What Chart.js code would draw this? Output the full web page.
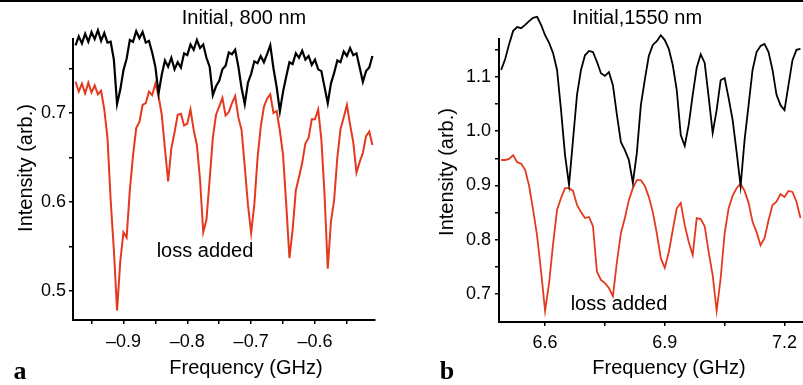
<!DOCTYPE html>
<html>
<head>
<meta charset="utf-8">
<script src="https://cdn.jsdelivr.net/npm/chart.js@4.4.1/dist/chart.umd.min.js"></script>
<style>
  html, body { margin: 0; padding: 0; background: #fff; }
  #wrap { position: relative; width: 803px; height: 385px; overflow: hidden; }
  #chartA { position: absolute; left: 0; top: 0; }
  #chartB { position: absolute; left: 400px; top: 0; }
</style>
</head>
<body>
<div id="wrap">
  <canvas id="chartA" width="400" height="385"></canvas>
  <canvas id="chartB" width="403" height="385"></canvas>
</div>
<script>
// panel a : 800 nm (GHz, arb.)
const freqA = [
  -0.975, -0.970, -0.965, -0.960, -0.955, -0.950, -0.945, -0.940, -0.935, -0.930,
  -0.925, -0.920, -0.915, -0.910, -0.905, -0.900, -0.895, -0.890, -0.885, -0.880,
  -0.875, -0.870, -0.865, -0.860, -0.855, -0.850, -0.845, -0.840, -0.835, -0.830,
  -0.825, -0.820, -0.815, -0.810, -0.805, -0.800, -0.795, -0.790, -0.785, -0.780,
  -0.775, -0.770, -0.765, -0.760, -0.755, -0.750, -0.745, -0.740, -0.735, -0.730,
  -0.725, -0.720, -0.715, -0.710, -0.705, -0.700, -0.695, -0.690, -0.685, -0.680,
  -0.675, -0.670, -0.665, -0.660, -0.655, -0.650, -0.645, -0.640, -0.635, -0.630,
  -0.625, -0.620, -0.615, -0.610, -0.605, -0.600, -0.595, -0.590, -0.585, -0.580,
  -0.575, -0.570, -0.565, -0.560, -0.555, -0.550, -0.545, -0.540, -0.535, -0.530,
  -0.525, -0.520, -0.515, -0.510
];
const blackA = [
  0.776, 0.786, 0.778, 0.789, 0.780, 0.791, 0.783, 0.793, 0.781, 0.790,
  0.779, 0.780, 0.760, 0.710, 0.726, 0.748, 0.761, 0.782, 0.780, 0.792,
  0.784, 0.791, 0.779, 0.781, 0.768, 0.752, 0.722, 0.743, 0.759, 0.752,
  0.762, 0.749, 0.757, 0.751, 0.767, 0.765, 0.777, 0.771, 0.782, 0.773,
  0.777, 0.762, 0.752, 0.720, 0.730, 0.736, 0.749, 0.753, 0.768, 0.766,
  0.771, 0.752, 0.728, 0.710, 0.734, 0.744, 0.758, 0.756, 0.764, 0.757,
  0.766, 0.776, 0.750, 0.729, 0.702, 0.724, 0.741, 0.757, 0.755, 0.767,
  0.762, 0.770, 0.760, 0.764, 0.754, 0.760, 0.749, 0.747, 0.729, 0.711,
  0.733, 0.745, 0.759, 0.757, 0.769, 0.764, 0.773, 0.765, 0.767, 0.751,
  0.735, 0.747, 0.751, 0.764
];
const redA = [
  0.735, 0.724, 0.733, 0.722, 0.734, 0.723, 0.731, 0.721, 0.725, 0.704,
  0.672, 0.602, 0.546, 0.478, 0.533, 0.566, 0.560, 0.613, 0.652, 0.683,
  0.690, 0.709, 0.711, 0.724, 0.720, 0.733, 0.719, 0.698, 0.660, 0.623,
  0.660, 0.678, 0.698, 0.699, 0.686, 0.688, 0.704, 0.681, 0.664, 0.625,
  0.566, 0.580, 0.625, 0.672, 0.698, 0.707, 0.717, 0.697, 0.701, 0.711,
  0.719, 0.695, 0.681, 0.640, 0.597, 0.565, 0.597, 0.649, 0.684, 0.707,
  0.716, 0.721, 0.700, 0.702, 0.680, 0.653, 0.597, 0.537, 0.569, 0.613,
  0.628, 0.644, 0.666, 0.672, 0.693, 0.693, 0.704, 0.670, 0.608, 0.525,
  0.578, 0.602, 0.650, 0.682, 0.695, 0.709, 0.687, 0.667, 0.633, 0.645,
  0.655, 0.674, 0.679, 0.664
];

// panel b : 1550 nm
const freqB = [
  6.49, 6.50, 6.51, 6.52, 6.53, 6.54, 6.55, 6.56, 6.57, 6.58,
  6.59, 6.60, 6.61, 6.62, 6.63, 6.64, 6.65, 6.66, 6.67, 6.68,
  6.69, 6.70, 6.71, 6.72, 6.73, 6.74, 6.75, 6.76, 6.77, 6.78,
  6.79, 6.80, 6.81, 6.82, 6.83, 6.84, 6.85, 6.86, 6.87, 6.88,
  6.89, 6.90, 6.91, 6.92, 6.93, 6.94, 6.95, 6.96, 6.97, 6.98,
  6.99, 7.00, 7.01, 7.02, 7.03, 7.04, 7.05, 7.06, 7.07, 7.08,
  7.09, 7.10, 7.11, 7.12, 7.13, 7.14, 7.15, 7.16, 7.17, 7.18,
  7.19, 7.20, 7.21, 7.22, 7.23, 7.24
];
const blackB = [
  1.113, 1.133, 1.161, 1.185, 1.192, 1.190, 1.196, 1.203, 1.209, 1.211,
  1.196, 1.177, 1.163, 1.144, 1.113, 1.039, 0.956, 0.901, 0.984, 1.067,
  1.113, 1.140, 1.148, 1.146, 1.128, 1.107, 1.102, 1.109, 1.085, 1.030,
  0.980, 0.965, 0.947, 0.905, 0.960, 1.048, 1.095, 1.139, 1.159, 1.166,
  1.177, 1.168, 1.152, 1.122, 1.076, 0.993, 0.973, 1.012, 1.067, 1.117,
  1.142, 1.126, 1.063, 0.997, 1.039, 1.094, 1.098, 1.061, 1.021, 0.962,
  0.899, 0.984, 1.048, 1.113, 1.146, 1.157, 1.161, 1.146, 1.113, 1.067,
  1.048, 1.039, 1.085, 1.131, 1.150, 1.152
];
const redB = [
  0.947, 0.947, 0.949, 0.956, 0.943, 0.940, 0.929, 0.899, 0.855, 0.807,
  0.741, 0.669, 0.720, 0.792, 0.855, 0.877, 0.895, 0.895, 0.890, 0.864,
  0.851, 0.840, 0.842, 0.825, 0.741, 0.726, 0.720, 0.711, 0.696, 0.759,
  0.812, 0.840, 0.873, 0.895, 0.910, 0.910, 0.899, 0.879, 0.851, 0.812,
  0.766, 0.748, 0.777, 0.818, 0.858, 0.868, 0.827, 0.796, 0.772, 0.840,
  0.838, 0.825, 0.777, 0.735, 0.669, 0.729, 0.812, 0.858, 0.881, 0.895,
  0.903, 0.890, 0.868, 0.833, 0.814, 0.790, 0.803, 0.836, 0.864, 0.870,
  0.884, 0.879, 0.890, 0.888, 0.870, 0.840
];

// tick values
const xMajorA = [-0.9, -0.8, -0.7, -0.6];
const xMinorA = [-0.95, -0.85, -0.75, -0.65, -0.55];
const yMajorA = [0.5, 0.6, 0.7];
const yMinorA = [0.55, 0.65, 0.75];
const xMajorB = [6.6, 6.9, 7.2];
const xMinorB = [6.75, 7.05];
const yMajorB = [0.7, 0.8, 0.9, 1.0, 1.1];
const yMinorB = [0.75, 0.85, 0.95, 1.05, 1.15];

const RED = '#e5391f';
const SANS = "'Liberation Sans', Arial, sans-serif";
const SERIF = "'Liberation Serif', 'Times New Roman', serif";

const toPoints = (xs, ys) => xs.map((x, i) => ({ x, y: ys[i] }));
const isMajor = (list, v) => list.some(m => Math.abs(m - v) < 1e-6);

// draws free text (titles, axis names, panel letters) and the top rule
const textPlugin = {
  id: 'freeText',
  afterDraw(chart, args, opts) {
    const ctx = chart.ctx;
    ctx.save();
    ctx.fillStyle = '#000';
    ctx.fillRect(0, 0, chart.width, 2);
    (opts.items || []).forEach(t => {
      ctx.save();
      ctx.font = t.font;
      ctx.fillStyle = '#000';
      ctx.textAlign = 'center';
      ctx.textBaseline = 'middle';
      ctx.translate(t.x, t.y);
      if (t.rot) ctx.rotate(t.rot);
      ctx.fillText(t.text, 0, 0);
      ctx.restore();
    });
    ctx.restore();
  }
};

function axis(min, max, major, minor, fmt, fitFn, pad) {
  return {
    type: 'linear', min, max,
    afterBuildTicks: (s) => { s.ticks = [...major, ...minor].sort((a, b) => a - b).map(v => ({ value: v })); },
    afterFit: fitFn,
    ticks: {
      autoSkip: false, maxRotation: 0, padding: pad, color: '#000',
      font: { family: SANS, size: 18 },
      callback: (v) => isMajor(major, v) ? fmt(v) : ''
    },
    grid: { drawOnChartArea: false, drawTicks: true, tickLength: 4, color: '#000', lineWidth: 1.5 },
    border: { display: true, color: '#000', width: 2 }
  };
}

const fmtNeg = (v) => '\u2013' + Math.abs(v).toFixed(1);
const fmt1 = (v) => v.toFixed(1);

function lineSet(xs, ys, color, w) {
  return { data: toPoints(xs, ys), borderColor: color, borderWidth: w, pointRadius: 0, tension: 0, clip: false, fill: false };
}

new Chart(document.getElementById('chartA').getContext('2d'), {
  type: 'line',
  data: { datasets: [lineSet(freqA, blackA, '#000', 2.2), lineSet(freqA, redA, RED, 2)] },
  options: {
    responsive: false, animation: false, devicePixelRatio: 1,
    layout: { padding: { left: 0, top: 39, right: 25, bottom: 0 } },
    scales: {
      x: axis(-0.979, -0.506, xMajorA, xMinorA, fmtNeg, (s) => { s.height = 65; }, 7),
      y: axis(0.4674, 0.7831, yMajorA, yMinorA, fmt1, (s) => { s.width = 73; }, 3)
    },
    plugins: {
      legend: { display: false }, tooltip: { enabled: false },
      freeText: { items: [
        { text: 'Initial, 800 nm', x: 244, y: 18, font: `20px ${SANS}` },
        { text: 'loss added', x: 205, y: 251, font: `20px ${SANS}` },
        { text: 'Frequency (GHz)', x: 246, y: 368, font: `20px ${SANS}` },
        { text: 'Intensity (arb.)', x: 26, y: 168, rot: -Math.PI / 2, font: `20px ${SANS}` },
        { text: 'a', x: 20, y: 372, font: `bold 26px ${SERIF}` }
      ] }
    }
  },
  plugins: [textPlugin]
});

new Chart(document.getElementById('chartB').getContext('2d'), {
  type: 'line',
  data: { datasets: [lineSet(freqB, blackB, '#000', 1.8), lineSet(freqB, redB, RED, 1.8)] },
  options: {
    responsive: false, animation: false, devicePixelRatio: 1,
    layout: { padding: { left: 0, top: 39, right: 0, bottom: 0 } },
    scales: {
      x: axis(6.4845, 7.245, xMajorB, xMinorB, fmt1, (s) => { s.height = 63; }, 6),
      y: axis(0.6484, 1.170, yMajorB, yMinorB, fmt1, (s) => { s.width = 99; }, 4)
    },
    plugins: {
      legend: { display: false }, tooltip: { enabled: false },
      freeText: { items: [
        { text: 'Initial,1550 nm', x: 237, y: 18, font: `20px ${SANS}` },
        { text: 'loss added', x: 219, y: 304, font: `20px ${SANS}` },
        { text: 'Frequency (GHz)', x: 269, y: 368, font: `20px ${SANS}` },
        { text: 'Intensity (arb.)', x: 47, y: 172, rot: -Math.PI / 2, font: `20px ${SANS}` },
        { text: 'b', x: 47, y: 372, font: `bold 26px ${SERIF}` }
      ] }
    }
  },
  plugins: [textPlugin]
});
</script>
</body>
</html>
